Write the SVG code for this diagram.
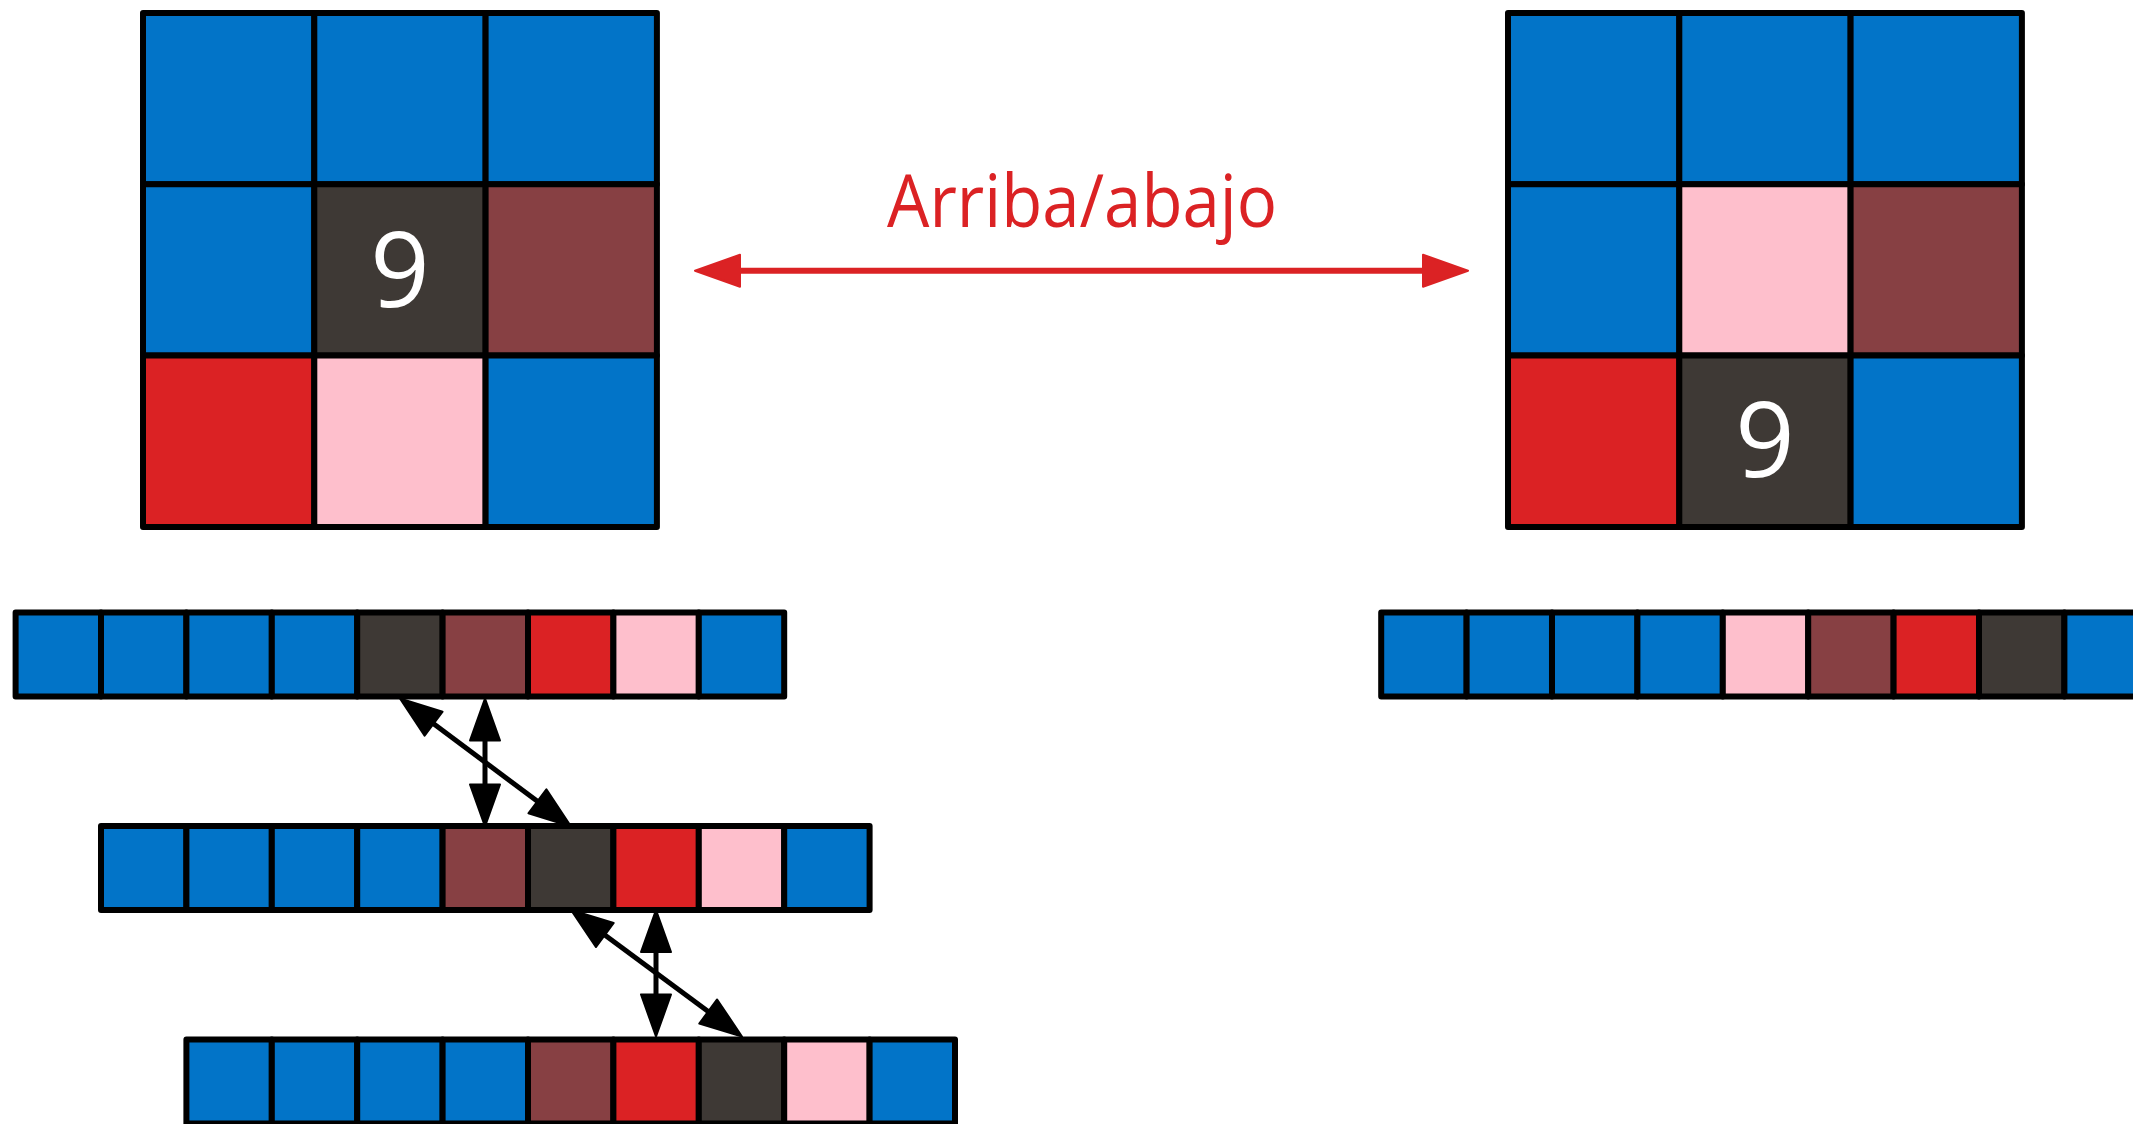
<svg xmlns="http://www.w3.org/2000/svg" width="2133" height="1124" viewBox="0 0 2133 1124">
<style>
rect{stroke:#000;stroke-width:6;stroke-linejoin:round}
.b{fill:#0274C8}.d{fill:#3E3935}.w{fill:#874043}.r{fill:#DB2224}.p{fill:#FEBFCC}
.nine{font-family:"Open Sans","Noto Sans",sans-serif;font-size:104px;fill:#fff;text-anchor:middle}
.lbl{font-family:"Open Sans","Noto Sans",sans-serif;font-size:74px;fill:#DB2224;text-anchor:middle}
.cb{stroke:#000;stroke-width:5;fill:none}
.cr{stroke:#DB2224;stroke-width:6;fill:none}
</style>
<defs>
<marker id="ab" markerUnits="userSpaceOnUse" viewBox="-2 -18 46 36" refX="0" refY="0" markerWidth="46" markerHeight="36" orient="auto-start-reverse">
<path d="M0,-15 L42,0 L0,15 Z" fill="#000" stroke="#000" stroke-width="2" stroke-linejoin="round"/>
</marker>
<marker id="ar" markerUnits="userSpaceOnUse" viewBox="-2 -19 49 38" refX="0" refY="0" markerWidth="49" markerHeight="38" orient="auto-start-reverse">
<path d="M0,-16 L45,0 L0,16 Z" fill="#DB2224" stroke="#DB2224" stroke-width="2" stroke-linejoin="round"/>
</marker>
</defs>
<g id="grid-left">
<rect class="b" x="143" y="13" width="171.3" height="171.3"/>
<rect class="b" x="314.3" y="13" width="171.3" height="171.3"/>
<rect class="b" x="485.6" y="13" width="171.3" height="171.3"/>
<rect class="b" x="143" y="184.3" width="171.3" height="171.3"/>
<rect class="d" x="314.3" y="184.3" width="171.3" height="171.3"/>
<rect class="w" x="485.6" y="184.3" width="171.3" height="171.3"/>
<rect class="r" x="143" y="355.6" width="171.3" height="171.3"/>
<rect class="p" x="314.3" y="355.6" width="171.3" height="171.3"/>
<rect class="b" x="485.6" y="355.6" width="171.3" height="171.3"/>
<text class="nine" x="400" y="307">9</text>
</g>
<g id="grid-right">
<rect class="b" x="1508" y="13" width="171.3" height="171.3"/>
<rect class="b" x="1679.3" y="13" width="171.3" height="171.3"/>
<rect class="b" x="1850.6" y="13" width="171.3" height="171.3"/>
<rect class="b" x="1508" y="184.3" width="171.3" height="171.3"/>
<rect class="p" x="1679.3" y="184.3" width="171.3" height="171.3"/>
<rect class="w" x="1850.6" y="184.3" width="171.3" height="171.3"/>
<rect class="r" x="1508" y="355.6" width="171.3" height="171.3"/>
<rect class="d" x="1679.3" y="355.6" width="171.3" height="171.3"/>
<rect class="b" x="1850.6" y="355.6" width="171.3" height="171.3"/>
<text class="nine" x="1765" y="477">9</text>
</g>
<g id="label">
<text class="lbl" x="1082" y="227" textLength="390" lengthAdjust="spacingAndGlyphs">Arriba/abajo</text>
</g>
<g id="row-1" transform="translate(15.6,612.5)">
<rect class="b" x="0" y="0" width="85.4" height="84"/>
<rect class="b" x="85.4" y="0" width="85.4" height="84"/>
<rect class="b" x="170.8" y="0" width="85.4" height="84"/>
<rect class="b" x="256.2" y="0" width="85.4" height="84"/>
<rect class="d" x="341.6" y="0" width="85.4" height="84"/>
<rect class="w" x="427" y="0" width="85.4" height="84"/>
<rect class="r" x="512.4" y="0" width="85.4" height="84"/>
<rect class="p" x="597.8" y="0" width="85.4" height="84"/>
<rect class="b" x="683.2" y="0" width="85.4" height="84"/>
</g>
<g id="row-2" transform="translate(101,826)">
<rect class="b" x="0" y="0" width="85.4" height="84"/>
<rect class="b" x="85.4" y="0" width="85.4" height="84"/>
<rect class="b" x="170.8" y="0" width="85.4" height="84"/>
<rect class="b" x="256.2" y="0" width="85.4" height="84"/>
<rect class="w" x="341.6" y="0" width="85.4" height="84"/>
<rect class="d" x="427" y="0" width="85.4" height="84"/>
<rect class="r" x="512.4" y="0" width="85.4" height="84"/>
<rect class="p" x="597.8" y="0" width="85.4" height="84"/>
<rect class="b" x="683.2" y="0" width="85.4" height="84"/>
</g>
<g id="row-3" transform="translate(186.4,1039.5)">
<rect class="b" x="0" y="0" width="85.4" height="84"/>
<rect class="b" x="85.4" y="0" width="85.4" height="84"/>
<rect class="b" x="170.8" y="0" width="85.4" height="84"/>
<rect class="b" x="256.2" y="0" width="85.4" height="84"/>
<rect class="w" x="341.6" y="0" width="85.4" height="84"/>
<rect class="r" x="427" y="0" width="85.4" height="84"/>
<rect class="d" x="512.4" y="0" width="85.4" height="84"/>
<rect class="p" x="597.8" y="0" width="85.4" height="84"/>
<rect class="b" x="683.2" y="0" width="85.4" height="84"/>
</g>
<g id="row-right" transform="translate(1381.2,612.5)">
<rect class="b" x="0" y="0" width="85.4" height="84"/>
<rect class="b" x="85.4" y="0" width="85.4" height="84"/>
<rect class="b" x="170.8" y="0" width="85.4" height="84"/>
<rect class="b" x="256.2" y="0" width="85.4" height="84"/>
<rect class="p" x="341.6" y="0" width="85.4" height="84"/>
<rect class="w" x="427" y="0" width="85.4" height="84"/>
<rect class="r" x="512.4" y="0" width="85.4" height="84"/>
<rect class="d" x="597.8" y="0" width="85.4" height="84"/>
<rect class="b" x="683.2" y="0" width="85.4" height="84"/>
</g>
<g id="connectors">
<path class="cr" d="M740,270.7 L1423,270.7" marker-start="url(#ar)" marker-end="url(#ar)"/>
<path class="cb" d="M485,740.5 L485,784.5" marker-start="url(#ab)" marker-end="url(#ab)"/>
<path class="cb" d="M433.6,723.7 L537.4,801.3" marker-start="url(#ab)" marker-end="url(#ab)"/>
<path class="cb" d="M656,952 L656,994.5" marker-start="url(#ab)" marker-end="url(#ab)"/>
<path class="cb" d="M604.8,935 L708.2,1011.5" marker-start="url(#ab)" marker-end="url(#ab)"/>
</g>
</svg>
